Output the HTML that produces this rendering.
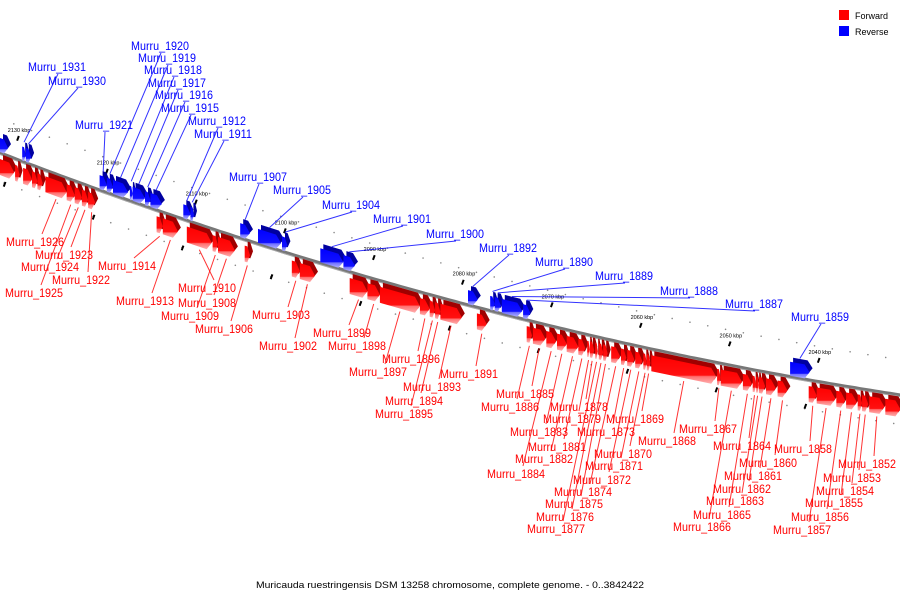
<!DOCTYPE html>
<html><head><meta charset="utf-8"><style>
html,body{margin:0;padding:0;background:#fff;}
svg{display:block;font-family:"Liberation Sans","DejaVu Sans",sans-serif;}
</style></head><body>
<svg id="chart" width="900" height="600" viewBox="0 0 900 600" xmlns="http://www.w3.org/2000/svg">
<defs>
<linearGradient id="gr" x1="0" y1="0" x2="0" y2="1"><stop offset="0" stop-color="#ff0000"/><stop offset="0.7" stop-color="#ff1010"/><stop offset="0.75" stop-color="#ff7070"/><stop offset="1" stop-color="#ffb0b0"/></linearGradient>
<linearGradient id="gb" x1="0" y1="0" x2="0" y2="1"><stop offset="0" stop-color="#0000ff"/><stop offset="0.7" stop-color="#1010ff"/><stop offset="0.75" stop-color="#7070ff"/><stop offset="1" stop-color="#b0b0ff"/></linearGradient>
</defs>
<g>
<rect x="839" y="10" width="10" height="10" fill="#ff0000"/>
<text x="855" y="19" font-size="9" fill="#000">Forward</text>
<rect x="839" y="26" width="10" height="10" fill="#0000ff"/>
<text x="855" y="35" font-size="9" fill="#000">Reverse</text>
</g>
<text x="450" y="588" font-size="9.5" text-anchor="middle" textLength="388" lengthAdjust="spacingAndGlyphs" fill="#000">Muricauda ruestringensis DSM 13258 chromosome, complete genome. - 0..3842422</text>
<g id="layer-bg"></g>
<g id="layer-genes"></g>
<g id="layer-labels"></g>
</svg>
<script>
// ---- data (kbp) ----
const tickKbp = [2130,2120,2110,2100,2090,2080,2070,2060,2050,2040];
const geneNames = ['','','','','','Murru_1926','Murru_1925','Murru_1924','Murru_1923','Murru_1922','Murru_1914','Murru_1913','Murru_1910','Murru_1909','Murru_1908','Murru_1906','Murru_1903','Murru_1902','Murru_1899','Murru_1898','Murru_1897','Murru_1896','Murru_1895','Murru_1894','Murru_1893','Murru_1891',
'Murru_1886','Murru_1885','Murru_1884','Murru_1883','Murru_1882','Murru_1881','Murru_1879','Murru_1878','Murru_1877','Murru_1876','Murru_1875','Murru_1874','Murru_1873','Murru_1872','Murru_1871','Murru_1870','Murru_1869','Murru_1868','Murru_1867','Murru_1866','Murru_1865','Murru_1864','Murru_1863','Murru_1862','Murru_1861','Murru_1860',
'Murru_1858','Murru_1857','Murru_1856','Murru_1855','Murru_1854','Murru_1853','Murru_1852','',
'','Murru_1931','Murru_1930','Murru_1921','Murru_1920','Murru_1919','Murru_1918','Murru_1917','Murru_1916','Murru_1915','Murru_1912','Murru_1911','Murru_1907','Murru_1905','Murru_1904','Murru_1901','Murru_1900','Murru_1892','Murru_1890','Murru_1889','Murru_1888','Murru_1887','Murru_1859'];
const geneStrand = ['+','+','+','+','+','+','+','+','+','+','+','+','+','+','+','+','+','+','+','+','+','+','+','+','+','+',
'+','+','+','+','+','+','+','+','+','+','+','+','+','+','+','+','+','+','+','+','+','+','+','+','+','+',
'+','+','+','+','+','+','+','+',
'-','-','-','-','-','-','-','-','-','-','-','-','-','-','-','-','-','-','-','-','-','-','-'];
const geneStart = [2132.0,2130.3,2129.4,2128.4,2127.8,2126.9,2124.5,2123.6,2122.8,2122.1,2114.4,2113.7,2111.0,2108.1,2107.5,2104.5,2099.2,2098.3,2092.7,2090.7,2089.3,2084.8,2083.7,2083.1,2082.5,2078.4,
2072.8,2072.1,2070.6,2069.4,2068.3,2067.0,2066.0,2065.7,2065.1,2064.7,2064.2,2063.3,2062.2,2061.5,2060.6,2059.7,2059.3,2058.8,2051.4,2051.0,2048.5,2047.4,2047.0,2046.7,2045.9,2044.6,
2041.1,2040.2,2038.0,2036.9,2035.6,2035.1,2034.3,2032.5,
2132.0,2129.5,2129.1,2120.8,2120.0,2119.3,2117.4,2117.1,2115.7,2115.1,2111.4,2110.6,2105.0,2103.0,2100.3,2096.0,2093.4,2079.4,2076.9,2076.4,2075.6,2073.2,2043.2];
const geneEnd = [2130.4,2129.8,2128.4,2127.8,2127.2,2124.5,2123.6,2122.8,2122.1,2121.3,2113.7,2112.0,2108.2,2107.5,2105.6,2103.9,2098.3,2096.6,2090.7,2089.3,2084.8,2083.7,2083.1,2082.5,2080.1,2077.3,
2072.2,2070.7,2069.5,2068.3,2067.0,2066.2,2065.7,2065.2,2064.8,2064.2,2063.7,2062.3,2061.6,2060.7,2059.8,2059.3,2058.9,2051.5,2051.0,2048.6,2047.5,2047.0,2046.7,2046.0,2044.8,2043.5,
2040.2,2038.1,2037.0,2035.7,2035.1,2034.4,2032.6,2030.8,
2131.1,2129.1,2128.5,2120.0,2119.3,2117.6,2117.1,2115.7,2115.1,2113.8,2110.6,2110.2,2103.9,2100.4,2099.7,2093.4,2092.1,2078.3,2076.4,2075.7,2073.3,2072.4,2041.0];
// label layout (text left x, baseline y) keyed by name
const labelPos = {
'Murru_1926':[6,246],'Murru_1923':[35,259],'Murru_1924':[21,271],'Murru_1922':[52,284],'Murru_1925':[5,297],'Murru_1914':[98,270],'Murru_1913':[116,305],
'Murru_1910':[178,292],'Murru_1908':[178,307],'Murru_1909':[161,320],'Murru_1906':[195,333],'Murru_1903':[252,319],'Murru_1902':[259,350],
'Murru_1899':[313,337],'Murru_1898':[328,350],'Murru_1896':[382,363],'Murru_1897':[349,376],'Murru_1893':[403,391],'Murru_1894':[385,405],'Murru_1895':[375,418],'Murru_1891':[440,378],
'Murru_1885':[496,398],'Murru_1886':[481,411],'Murru_1878':[550,411],'Murru_1879':[543,423],'Murru_1869':[606,423],'Murru_1883':[510,436],'Murru_1873':[577,436],'Murru_1868':[638,445],
'Murru_1881':[528,451],'Murru_1870':[594,458],'Murru_1882':[515,463],'Murru_1871':[585,470],'Murru_1884':[487,478],'Murru_1872':[573,484],'Murru_1874':[554,496],'Murru_1875':[545,508],'Murru_1876':[536,521],'Murru_1877':[527,533],
'Murru_1867':[679,433],'Murru_1864':[713,450],'Murru_1858':[774,453],'Murru_1860':[739,467],'Murru_1852':[838,468],'Murru_1861':[724,480],'Murru_1853':[823,482],'Murru_1862':[713,493],'Murru_1854':[816,495],'Murru_1863':[706,505],'Murru_1855':[805,507],'Murru_1865':[693,519],'Murru_1856':[791,521],'Murru_1866':[673,531],'Murru_1857':[773,534],
'Murru_1931':[28,71],'Murru_1930':[48,85],'Murru_1920':[131,50],'Murru_1919':[138,62],'Murru_1918':[144,74],'Murru_1917':[148,87],'Murru_1916':[155,99],'Murru_1915':[161,112],'Murru_1912':[188,125],'Murru_1911':[194,138],'Murru_1921':[75,129],
'Murru_1907':[229,181],'Murru_1905':[273,194],'Murru_1904':[322,209],'Murru_1901':[373,223],'Murru_1900':[426,238],'Murru_1892':[479,252],'Murru_1890':[535,266],'Murru_1889':[595,280],'Murru_1888':[660,295],'Murru_1887':[725,308],'Murru_1859':[791,321]};

// ---- scales ----
const NS='http://www.w3.org/2000/svg';
function X(k){return (2132-k)*8.897;}
function Y(x){return 153+0.3856*x-0.0001296*x*x;}
function mk(tag,attrs,parent){const e=document.createElementNS(NS,tag);for(const a in attrs)e.setAttribute(a,attrs[a]);parent.appendChild(e);return e;}
const bg=document.getElementById('layer-bg'), gl=document.getElementById('layer-genes'), ll=document.getElementById('layer-labels');

// minor dots
for(let k=2132;k>=2030;k-=2){
  const x=X(k); if(x<0||x>900) continue;
  [-36,30].forEach(o=>{
    const d=mk('circle',{cx:x+(o<0?-4:4),cy:Y(x)+o,r:0.8,fill:'#888'},bg);
    
    
  });
}
// backbone
let pts=[];for(let x=-5;x<=905;x+=5)pts.push(x+','+Y(x).toFixed(1));
const bb=mk('polyline',{points:pts.join(' '),fill:'none',stroke:'#777',"stroke-width":3.5},bg);


const bb2=mk('polyline',{points:pts.join(' '),fill:'none',stroke:'#aaa',"stroke-width":1,transform:'translate(0,1.5)'},bg);


// ticks
tickKbp.forEach(k=>{
  const x=X(k),y=Y(x);
  const t=mk('rect',{x:x-1,y:y-24,width:2,height:5,fill:'#000',transform:`rotate(20 ${x} ${y-21})`},bg);
  
  
  const t2=mk('rect',{x:x-14,y:y+22,width:2,height:5,fill:'#000',transform:`rotate(20 ${x-13} ${y+24})`},bg);
  
  
  const tl=mk('text',{x:x-10,y:y-28,"font-size":5.5,fill:'#000'},bg);
  tl.textContent=k+' kbp';
  
  
});
// genes
for(let i=0;i<geneNames.length;i++){
  const fwd=geneStrand[i]==='+';
  const xa=X(geneStart[i]),xb=X(geneEnd[i]);
  const o1=fwd?6:-15,o2=fwd?22:-1,om=(o1+o2)/2;
  const h=Math.min(5,(xb-xa)/2);
  const poly=(dx,dy)=>[[xa,Y(xa)+o1],[xb-h,Y(xb-h)+o1],[xb,Y(xb)+om],[xb-h,Y(xb-h)+o2],[xa,Y(xa)+o2]].map(p=>(p[0]+dx).toFixed(1)+','+(p[1]+dy).toFixed(1)).join(' ');
  const g=mk('g',{},gl);
  
  
  mk('polygon',{points:poly(3,-4),fill:fwd?'#a00000':'#0000a0'},g);
  mk('polygon',{points:poly(0,0),fill:fwd?'url(#gr)':'url(#gb)'},g);
  const nm=geneNames[i];
  if(nm && labelPos[nm]){
    const lp=labelPos[nm],gc=(xa+xb)/2;
    const col=fwd?'#ff0000':'#0000ff';
    let lx,ly,tx,ty;
    if(fwd){lx=lp[0]+36;ly=lp[1]-12;tx=gc;ty=Y(gc)+25;}
    else{lx=lp[0]+30;ly=lp[1]+3;tx=gc;ty=Y(gc)-20;}
    const ln=mk('line',{x1:lx,y1:ly,x2:tx,y2:ty,stroke:col,"stroke-width":1,opacity:0.8},ll);
    
    
    const tt=mk('text',{x:lp[0],y:lp[1],"font-size":12,fill:col,textLength:58,lengthAdjust:'spacingAndGlyphs'},ll);
    tt.textContent=nm;
    
    
  }
}
</script>
</body></html>
